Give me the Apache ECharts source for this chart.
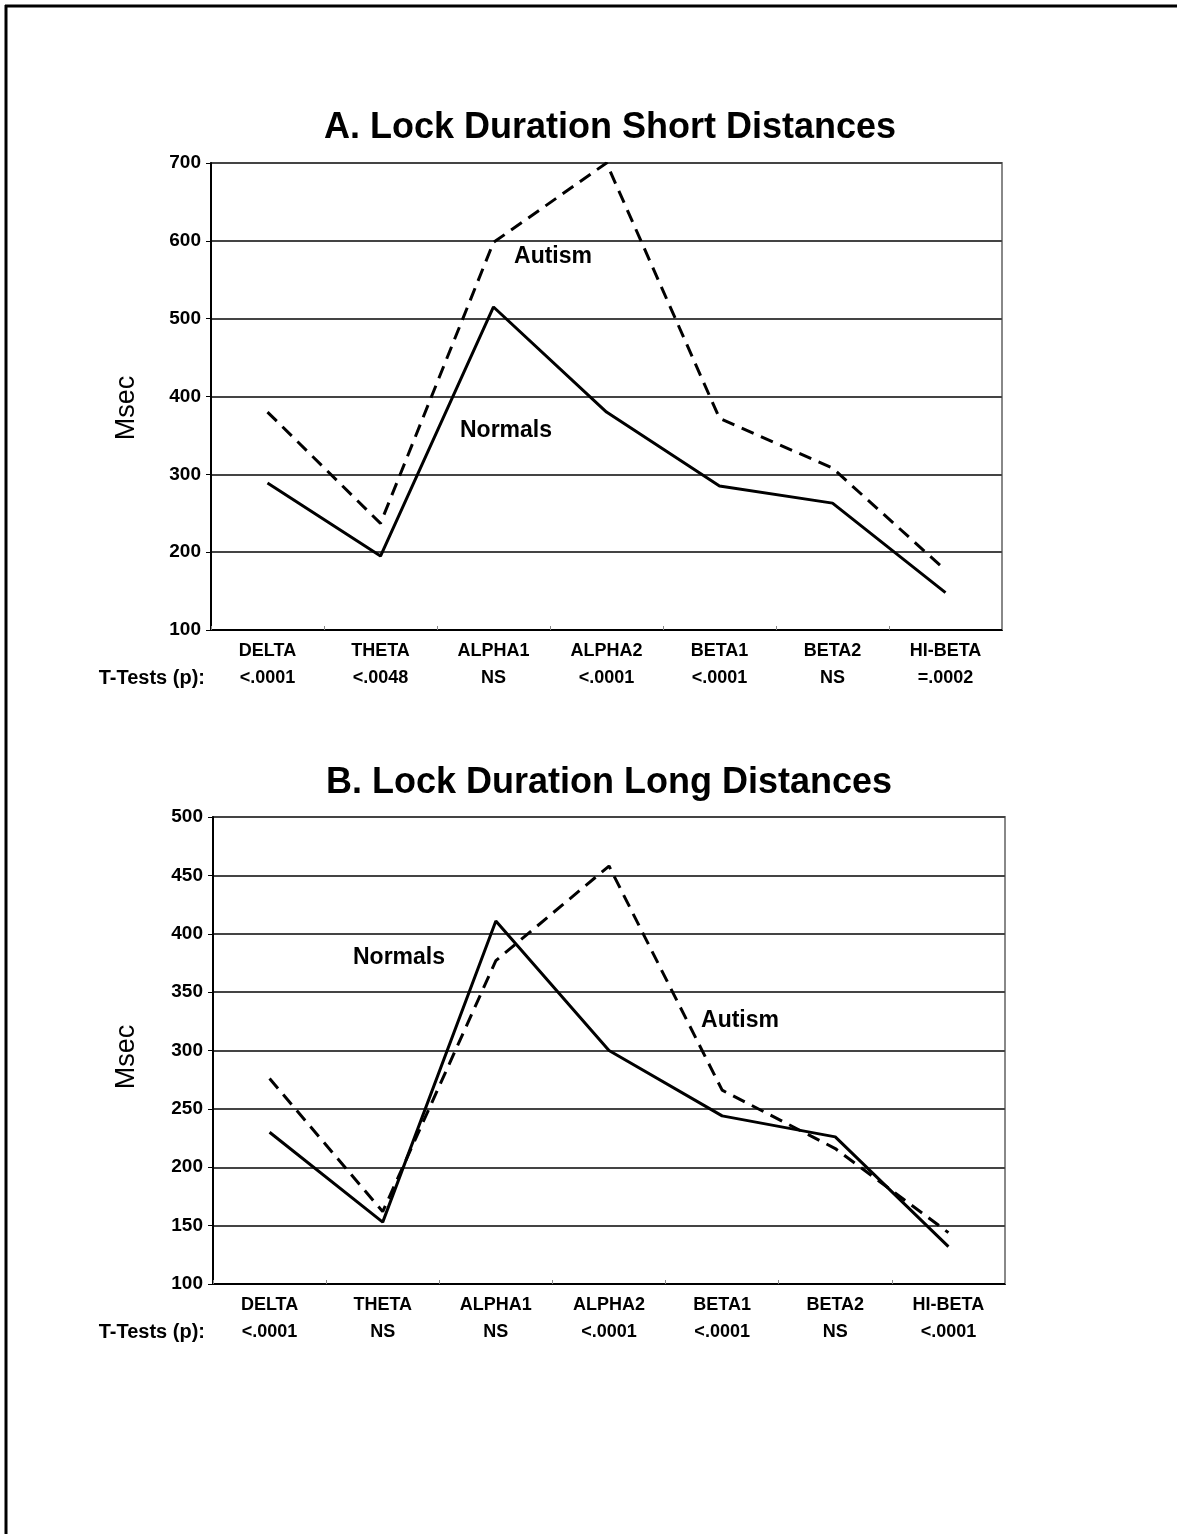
<!DOCTYPE html>
<html>
<head>
<meta charset="utf-8">
<script src="https://cdn.jsdelivr.net/npm/echarts@6/dist/echarts.min.js"></script>
<style>
html,body{margin:0;padding:0;background:#fff;}
#chart{width:1177px;height:1534px;}
</style>
</head>
<body>
<div id="chart"></div>
<script>
// ---- data ----
const categories = ['DELTA','THETA','ALPHA1','ALPHA2','BETA1','BETA2','HI-BETA'];
const pValuesA = ['<.0001','<.0048','NS','<.0001','<.0001','NS','=.0002'];
const pValuesB = ['<.0001','NS','NS','<.0001','<.0001','NS','<.0001'];
const normalsA = [289, 195, 515, 380, 285, 263, 148];
const autismA  = [380, 237, 598, 700, 372, 308, 177];
const normalsB = [230, 153, 411, 300, 244, 226, 132];
const autismB  = [276, 162, 377, 458, 266, 216, 144];
const titleA = 'A. Lock Duration Short Distances';
const titleB = 'B. Lock Duration Long Distances';

const FONT = '"Liberation Sans", Arial, sans-serif';
const chart = echarts.init(document.getElementById('chart'));

function xAxisDef(gridIndex, pvals){
  return {
    type:'category', gridIndex, data:categories, boundaryGap:true,
    axisLine:{show:true, lineStyle:{color:'#000', width:2}},
    axisTick:{show:true, inside:true, length:4, lineStyle:{color:'#888'}},
    axisLabel:{
      margin:8, interval:0, color:'#000', fontFamily:FONT, fontWeight:'bold', fontSize:18, lineHeight:27,
      formatter:(v, i)=> v + '\n' + pvals[i]
    },
    splitLine:{show:false}
  };
}
function yAxisDef(gridIndex, min, max, interval){
  return {
    type:'value', gridIndex, min, max, interval,
    axisLine:{show:true, lineStyle:{color:'#000', width:2}},
    axisTick:{show:true, length:5, lineStyle:{color:'#000'}},
    axisLabel:{margin:10, color:'#000', fontFamily:FONT, fontWeight:'bold', fontSize:19},
    splitLine:{show:true, lineStyle:{color:'#444', width:2}}
  };
}
function lineSeries(idx, data, dashed){
  return {
    type:'line', xAxisIndex:idx, yAxisIndex:idx, data,
    symbol:'none', smooth:false, silent:true,
    lineStyle:{color:'#000', width:3, type: dashed ? [13,8] : 'solid'},
    z: dashed ? 3 : 4
  };
}
function txt(x, y, s, size, weight, align){
  return {
    type:'text', x, y, z:10,
    style:{text:s, fill:'#000', font:`${weight} ${size}px ${FONT}`, align:align||'center', verticalAlign:'middle'}
  };
}

const msecA = txt(127, 408, 'Msec', 27, 'normal'); msecA.rotation = Math.PI/2;
const msecB = txt(127, 1057, 'Msec', 27, 'normal'); msecB.rotation = Math.PI/2;

const option = {
  backgroundColor:'#fff',
  animation:false,
  grid:[
    {left:211, top:163, width:791, height:467, show:true, borderColor:'#888', borderWidth:2, backgroundColor:'transparent'},
    {left:213, top:817, width:792, height:467, show:true, borderColor:'#888', borderWidth:2, backgroundColor:'transparent'}
  ],
  xAxis:[ xAxisDef(0, pValuesA), xAxisDef(1, pValuesB) ],
  yAxis:[ yAxisDef(0, 100, 700, 100), yAxisDef(1, 100, 500, 50) ],
  series:[
    lineSeries(0, normalsA, false),
    lineSeries(0, autismA, true),
    lineSeries(1, normalsB, false),
    lineSeries(1, autismB, true)
  ],
  graphic:[
    {type:'line', shape:{x1:5, y1:6, x2:1177, y2:6}, style:{stroke:'#000', lineWidth:3}},
    {type:'line', shape:{x1:6, y1:5, x2:6, y2:1534}, style:{stroke:'#000', lineWidth:3}},
    txt(610, 128, titleA, 36, 'bold'),
    txt(609, 783, titleB, 36, 'bold'),
    msecA, msecB,
    txt(205, 678, 'T-Tests (p):', 20, 'bold', 'right'),
    txt(205, 1332, 'T-Tests (p):', 20, 'bold', 'right'),
    txt(553, 257, 'Autism', 23, 'bold'),
    txt(506, 431, 'Normals', 23, 'bold'),
    txt(399, 958, 'Normals', 23, 'bold'),
    txt(740, 1021, 'Autism', 23, 'bold')
  ]
};
chart.setOption(option);
</script>
</body>
</html>
